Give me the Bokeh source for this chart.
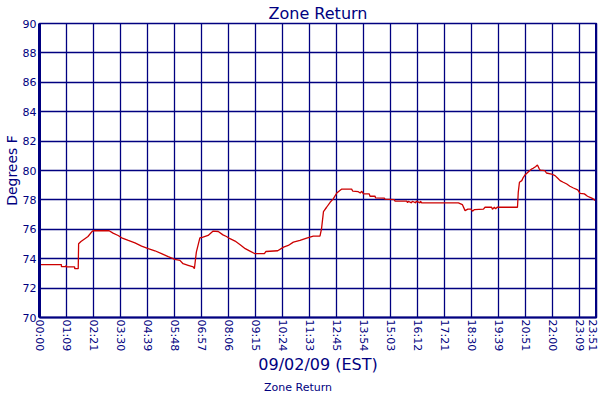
from bokeh.plotting import figure
from bokeh.models import FixedTicker, Legend, LegendItem, Span, ColumnDataSource
from bokeh.layouts import column
from bokeh.embed import file_html
from bokeh.resources import INLINE

# ---- data ----
series_name = "Zone Return"
time_min = [0, 56, 56, 67, 68, 69, 90, 90, 99, 100, 106, 116, 124, 133, 137, 178, 188, 201, 210, 227,
            244, 261, 278, 295, 312, 329, 346, 359, 367, 380, 393, 396, 401, 410, 418, 431, 444, 457,
            469, 478, 487, 500, 513, 526, 538, 551, 575, 579, 609, 624, 636, 649, 666, 683, 700, 717,
            721, 726, 734, 743, 751, 760, 772, 798, 801, 815, 820, 824, 828, 843, 845, 858, 859, 882,
            883, 907, 909, 939, 941, 943, 951, 953, 962, 963, 973, 974, 977, 1071, 1081, 1088, 1095,
            1103, 1107, 1112, 1135, 1139, 1156, 1158, 1163, 1166, 1170, 1222, 1224, 1227, 1233, 1237,
            1241, 1250, 1258, 1262, 1268, 1273, 1277, 1280, 1292, 1296, 1309, 1318, 1325, 1331, 1339,
            1348, 1356, 1365, 1376, 1382, 1393, 1401, 1412, 1418, 1424]
zone_return = [73.6, 73.6, 73.46, 73.46, 73.55, 73.44, 73.44, 73.32, 73.32, 75.02, 75.17, 75.36, 75.51,
               75.81, 75.9, 75.9, 75.74, 75.58, 75.42, 75.24, 75.08, 74.86, 74.68, 74.54, 74.34, 74.14,
               73.95, 73.89, 73.66, 73.55, 73.44, 73.32, 74.45, 75.42, 75.47, 75.58, 75.88, 75.85, 75.62,
               75.51, 75.36, 75.2, 74.95, 74.68, 74.52, 74.34, 74.34, 74.49, 74.54, 74.79, 74.9, 75.13,
               75.24, 75.4, 75.54, 75.54, 76.03, 77.2, 77.5, 77.84, 78.07, 78.47, 78.73, 78.73, 78.59,
               78.56, 78.47, 78.59, 78.41, 78.41, 78.25, 78.25, 78.14, 78.12, 78.05, 78.02, 77.91, 77.91,
               77.8, 77.91, 77.8, 77.91, 77.8, 77.91, 77.8, 77.91, 77.8, 77.8, 77.68, 77.27, 77.37, 77.37,
               77.23, 77.34, 77.37, 77.5, 77.5, 77.37, 77.5, 77.39, 77.5, 77.5, 78.52, 79.2, 79.31, 79.54,
               79.69, 79.92, 80.1, 80.15, 80.26, 80.37, 80.15, 80.03, 79.99, 79.83, 79.76, 79.65, 79.47,
               79.31, 79.2, 79.08, 78.93, 78.81, 78.68, 78.45, 78.41, 78.25, 78.12, 78.02, 77.91]
tick_pos = [0, 69, 138, 207, 276, 345, 414, 483, 552, 621, 690, 759, 828, 897, 966, 1035, 1104,
            1173, 1242, 1311, 1380, 1424]
tick_labels = ["00:00", "01:09", "02:21", "03:30", "04:39", "05:48", "06:57", "08:06", "09:15",
               "10:24", "11:33", "12:45", "13:54", "15:03", "16:12", "17:21", "18:30", "19:39",
               "20:51", "22:00", "23:09", "23:51"]
y_ticks = [70, 72, 74, 76, 78, 80, 82, 84, 86, 88, 90]

NAVY = "#000080"
RED = "#CC0000"
FONT = "DejaVu Sans"

p = figure(frame_width=557, frame_height=294, x_range=(0, 1424), y_range=(70, 90),
           output_backend="svg", toolbar_location=None,
           title="Zone Return", min_border_left=33, min_border_right=2,
           min_border_top=21, min_border_bottom=0)
p.background_fill_color = "white"
p.border_fill_color = "white"
p.outline_line_color = NAVY
p.outline_line_width = 1.5

p.title.align = "center"
p.title.text_font = FONT
p.title.text_font_size = "16px"
p.title.text_font_style = "normal"
p.title.text_color = NAVY
p.title.standoff = 2
p.title.offset = 0

src = ColumnDataSource(dict(t=time_min, v=zone_return))
r = p.line("t", "v", source=src, line_color=RED, line_width=1.3)

p.xaxis.ticker = FixedTicker(ticks=tick_pos)
p.xaxis.major_label_overrides = {tp: lab for tp, lab in zip(tick_pos, tick_labels)}
p.xaxis.major_label_orientation = "vertical"
p.yaxis.ticker = FixedTicker(ticks=y_ticks)

for ax in (p.xaxis[0], p.yaxis[0]):
    ax.major_tick_out = 0
    ax.major_tick_in = 0
    ax.minor_tick_out = 0
    ax.minor_tick_in = 0
    ax.axis_line_color = NAVY
    ax.major_label_text_color = NAVY
    ax.major_label_text_font = FONT
    ax.major_label_text_font_size = "11px"
    ax.axis_label_text_color = NAVY
    ax.axis_label_text_font = FONT
    ax.axis_label_text_font_style = "normal"

p.xaxis.axis_line_width = 2
p.yaxis.axis_line_width = 3
p.xaxis.axis_label = "09/02/09 (EST)"
p.xaxis.axis_label_text_font_size = "16px"
p.xaxis.axis_label_standoff = 1
p.xaxis.major_label_standoff = 2
p.yaxis.axis_label = "Degrees F"
p.yaxis.axis_label_text_font_size = "14px"
p.yaxis.axis_label_standoff = 0
p.yaxis.major_label_standoff = 3

p.xgrid.grid_line_color = NAVY
p.ygrid.grid_line_color = NAVY
p.xgrid.grid_line_width = 1.3
p.ygrid.grid_line_width = 1.3

p.add_layout(Span(location=1424, dimension="height", line_color=NAVY, line_width=3))

# ---- legend strip (separate small figure under the chart) ----
leg = figure(frame_width=592, frame_height=22, x_range=(0, 1), y_range=(0, 1),
             output_backend="svg", toolbar_location=None,
             x_axis_location=None, y_axis_location=None,
             min_border_left=0, min_border_right=0, min_border_top=0, min_border_bottom=0)
leg.grid.visible = False
leg.outline_line_color = None
leg.background_fill_color = "white"
leg.border_fill_color = "white"
key = leg.line(x=[], y=[], line_color=RED, line_width=2)

legend = Legend(items=[LegendItem(label=series_name, renderers=[key])],
                orientation="horizontal", location=(247, 5))
legend.label_text_font = FONT
legend.label_text_font_size = "11px"
legend.label_text_color = NAVY
legend.border_line_color = None
legend.background_fill_alpha = 0
legend.glyph_width = 14
legend.glyph_height = 12
legend.label_height = 12
legend.label_standoff = 3
legend.padding = 0
legend.margin = 0
leg.add_layout(legend)

layout = column(p, leg, spacing=0)
open("out.html", "w").write(file_html(layout, INLINE))
